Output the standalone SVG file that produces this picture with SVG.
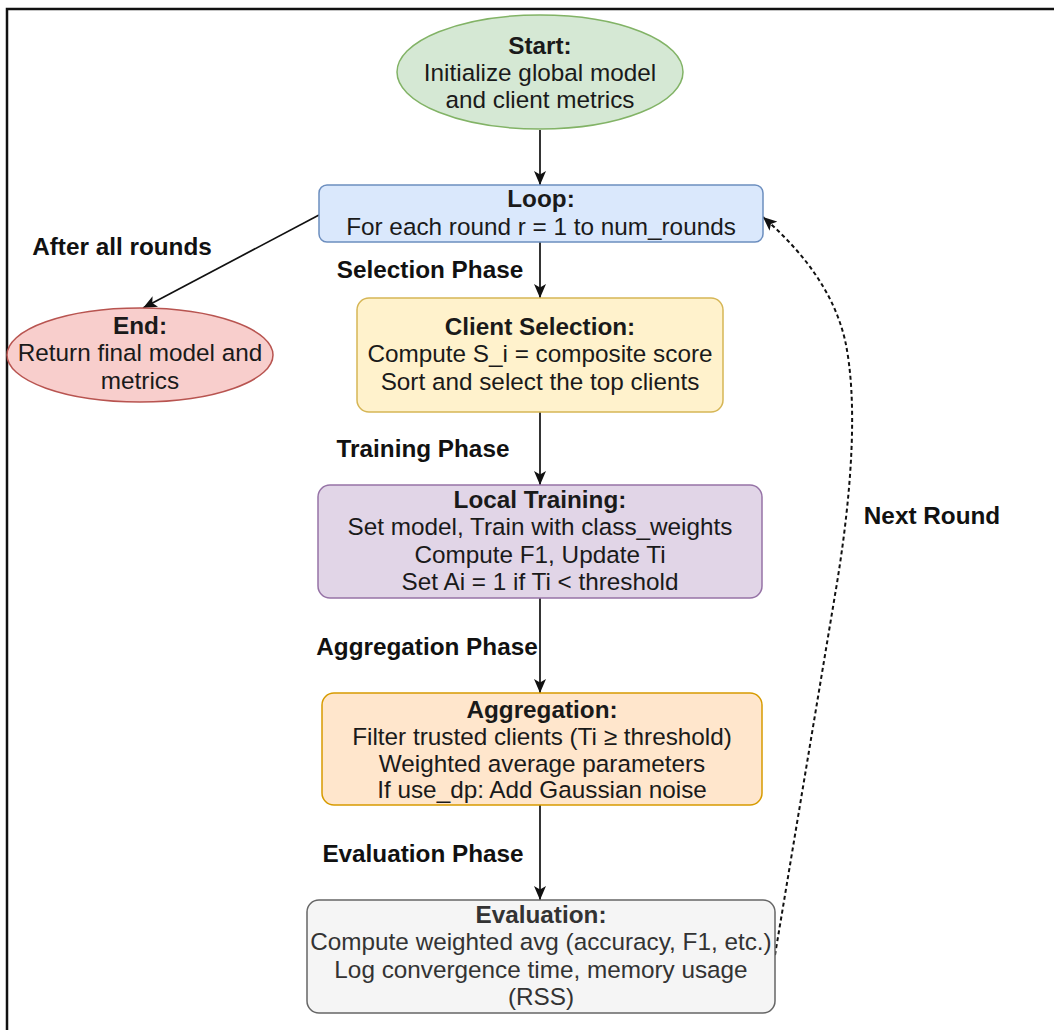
<svg xmlns="http://www.w3.org/2000/svg" width="1054" height="1030" viewBox="0 0 1054 1030">
  <style>
    text { font-family: "Liberation Sans", Arial, sans-serif; font-size: 24.3px; fill: #1a1a1a; text-anchor: middle; }
    .b { font-weight: bold; }
    .lbl { font-weight: bold; fill: #111; }
    .grey { fill: #333333; }
    .edge { fill: none; stroke: #111; stroke-width: 1.7; }
    .dash { fill: none; stroke: #111; stroke-width: 2; stroke-dasharray: 4 3; }
  </style>
  <defs>
    <marker id="arr" viewBox="0 0 14 12" refX="14" refY="6" markerWidth="14" markerHeight="12" markerUnits="userSpaceOnUse" orient="auto">
      <path d="M0,0 L14,6 L0,12 L3.5,6 Z" fill="#111"/>
    </marker>
  </defs>
  <rect x="0" y="0" width="1054" height="1030" fill="#ffffff"/>
  <rect id="frame" x="7" y="9" width="1100" height="1100" fill="none" stroke="#111" stroke-width="2.5"/>

  <g id="connectors">
    <line class="edge" x1="540" y1="130" x2="540" y2="185" marker-end="url(#arr)"/>
    <line class="edge" x1="540" y1="242" x2="540" y2="298" marker-end="url(#arr)"/>
    <line class="edge" x1="540" y1="412" x2="540" y2="485" marker-end="url(#arr)"/>
    <line class="edge" x1="540" y1="598" x2="540" y2="693" marker-end="url(#arr)"/>
    <line class="edge" x1="540" y1="805" x2="540" y2="900" marker-end="url(#arr)"/>
    <line class="edge" x1="319" y1="215" x2="143" y2="308" marker-end="url(#arr)"/>
    <path class="dash" d="M775,955 L837,583 C852,490 858,400 845,340 C832,285 795,245 763,217" marker-end="url(#arr)"/>
    <text class="lbl" x="430" y="278">Selection Phase</text>
    <text class="lbl" x="423" y="457">Training Phase</text>
    <text class="lbl" x="427" y="655">Aggregation Phase</text>
    <text class="lbl" x="423" y="862">Evaluation Phase</text>
    <text class="lbl" x="122" y="255">After all rounds</text>
    <text class="lbl" x="932" y="524">Next Round</text>
  </g>

  <g id="start">
    <ellipse cx="540" cy="72" rx="143" ry="57" fill="#d5e8d4" stroke="#82b366" stroke-width="1.5"/>
    <text class="b" x="540" y="54">Start:</text>
    <text x="540" y="81">Initialize global model</text>
    <text x="540" y="108">and client metrics</text>
  </g>

  <g id="loop">
    <rect x="319" y="185" width="444" height="57" rx="8" fill="#dae8fc" stroke="#6c8ebf" stroke-width="1.5"/>
    <text class="b" x="541" y="207">Loop:</text>
    <text x="541" y="235">For each round r = 1 to num_rounds</text>
  </g>

  <g id="end">
    <ellipse cx="140" cy="355" rx="133" ry="47" fill="#f8cecc" stroke="#b85450" stroke-width="1.5"/>
    <text class="b" x="140" y="334">End:</text>
    <text x="140" y="361">Return final model and</text>
    <text x="140" y="389">metrics</text>
  </g>

  <g id="selection">
    <rect x="357" y="298" width="366" height="114" rx="12" fill="#fff2cc" stroke="#d6b656" stroke-width="1.5"/>
    <text class="b" x="540" y="335">Client Selection:</text>
    <text x="540" y="362">Compute S_i = composite score</text>
    <text x="540" y="390">Sort and select the top clients</text>
  </g>

  <g id="training">
    <rect x="318" y="485" width="444" height="113" rx="12" fill="#e1d5e7" stroke="#9673a6" stroke-width="1.5"/>
    <text class="b" x="540" y="508">Local Training:</text>
    <text x="540" y="535">Set model, Train with class_weights</text>
    <text x="540" y="563">Compute F1, Update Ti</text>
    <text x="540" y="590">Set Ai = 1 if Ti &lt; threshold</text>
  </g>

  <g id="aggregation">
    <rect x="322" y="693" width="440" height="112" rx="12" fill="#ffe6cc" stroke="#d79b00" stroke-width="1.5"/>
    <text class="b" x="542" y="718">Aggregation:</text>
    <text x="542" y="745">Filter trusted clients (Ti ≥ threshold)</text>
    <text x="542" y="772">Weighted average parameters</text>
    <text x="542" y="798">If use_dp: Add Gaussian noise</text>
  </g>

  <g id="evaluation">
    <rect x="307" y="900" width="468" height="113" rx="12" fill="#f5f5f5" stroke="#666666" stroke-width="1.5"/>
    <text class="b grey" x="541" y="923">Evaluation:</text>
    <text class="grey" x="541" y="950">Compute weighted avg (accuracy, F1, etc.)</text>
    <text class="grey" x="541" y="978">Log convergence time, memory usage</text>
    <text class="grey" x="541" y="1005">(RSS)</text>
  </g>
</svg>
